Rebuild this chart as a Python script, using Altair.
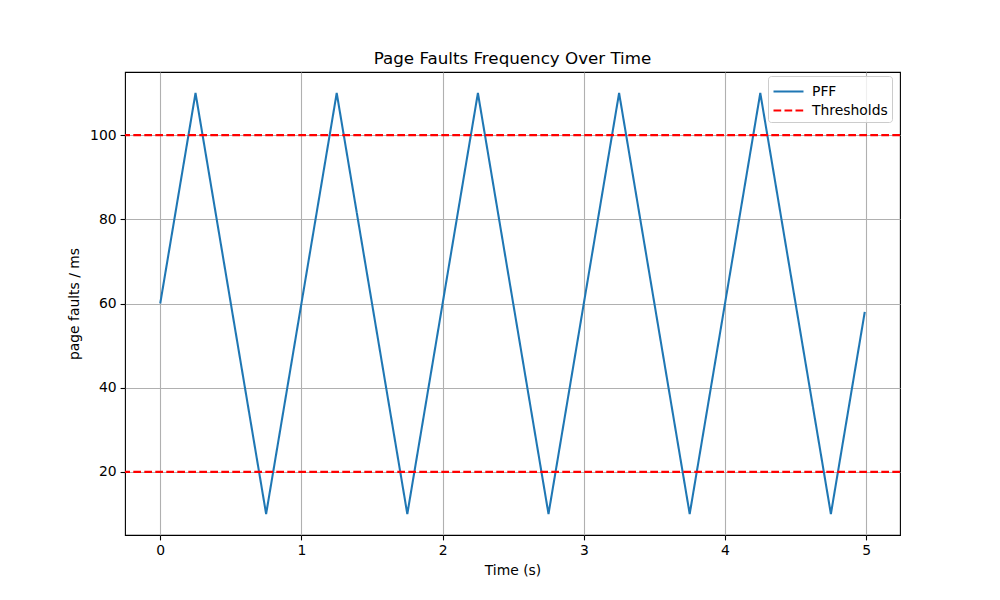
import altair as alt
import pandas as pd

# Vertices of the PFF triangle wave
pff_time = [0.0, 0.25, 0.75, 1.25, 1.75, 2.25, 2.75, 3.25, 3.75, 4.25, 4.75, 4.99]
pff_value = [60, 110, 10, 110, 10, 110, 10, 110, 10, 110, 10, 58]
thresholds = [20, 100]
series_names = ["PFF", "Thresholds"]
x_ticks = [0, 1, 2, 3, 4, 5]
y_ticks = [20, 40, 60, 80, 100]

pff_df = pd.DataFrame({"t": pff_time, "v": pff_value, "series": "PFF"})
thr_df = pd.DataFrame({"v": thresholds, "series": "Thresholds"})

color = alt.Color(
    "series:N",
    scale=alt.Scale(domain=series_names, range=["#1f77b4", "#ff0000"]),
    legend=alt.Legend(
        title=None,
        orient="none",
        legendX=643,
        legendY=4,
        symbolType="M-1,0L2,0",
        symbolSize=400,
        symbolStrokeWidth=2.08,
        labelFontSize=13.9,
        labelFont="DejaVu Sans",
        labelColor="#000000",
        labelOffset=17,
        padding=4,
        rowPadding=0,
        strokeColor="#cccccc",
        fillColor="rgba(255,255,255,0.8)",
        cornerRadius=3,
    ),
)
dash = alt.StrokeDash(
    "series:N",
    scale=alt.Scale(domain=series_names, range=[[1, 0], [7.7, 3.3]]),
    legend=None,
)

xscale = alt.Scale(domain=[-0.2495, 5.2395], nice=False, zero=False)
yscale = alt.Scale(domain=[5, 115], nice=False, zero=False)

line = alt.Chart(pff_df).mark_line(strokeWidth=2.08, clip=True).encode(
    x=alt.X("t:Q", scale=xscale,
            axis=alt.Axis(title="Time (s)", values=x_ticks, format="d")),
    y=alt.Y("v:Q", scale=yscale,
            axis=alt.Axis(title="page faults / ms", values=y_ticks, format="d")),
    color=color,
    strokeDash=dash,
)

rules = alt.Chart(thr_df).mark_rule(strokeWidth=2.08).encode(
    y=alt.Y("v:Q", scale=yscale),
    color=color,
    strokeDash=dash,
)

chart = (
    alt.layer(line, rules)
    .properties(
        width=775,
        height=463,
        background="white",
        title=alt.TitleParams("Page Faults Frequency Over Time", fontSize=16.7,
                              font="DejaVu Sans", fontWeight="normal",
                              color="#000000", offset=4),
        autosize=alt.AutoSizeParams(type="none"),
        padding={"left": 117, "top": 64, "right": 92, "bottom": 57},
    )
    .configure_view(stroke="#000000", strokeWidth=1.1)
    .configure_axis(
        grid=True,
        gridColor="#b0b0b0",
        gridWidth=1.1,
        domain=False,
        tickColor="#000000",
        tickSize=4.9,
        tickWidth=1.1,
        labelFont="DejaVu Sans",
        labelFontSize=13.9,
        labelColor="#000000",
        labelPadding=4,
        titleFont="DejaVu Sans",
        titleFontSize=13.9,
        titleFontWeight="normal",
        titleColor="#000000",
    )
    .configure_axisX(titlePadding=6)
    .configure_axisY(titlePadding=8)
)

chart.save("out.html", embed_options={"renderer": "svg", "actions": False})
